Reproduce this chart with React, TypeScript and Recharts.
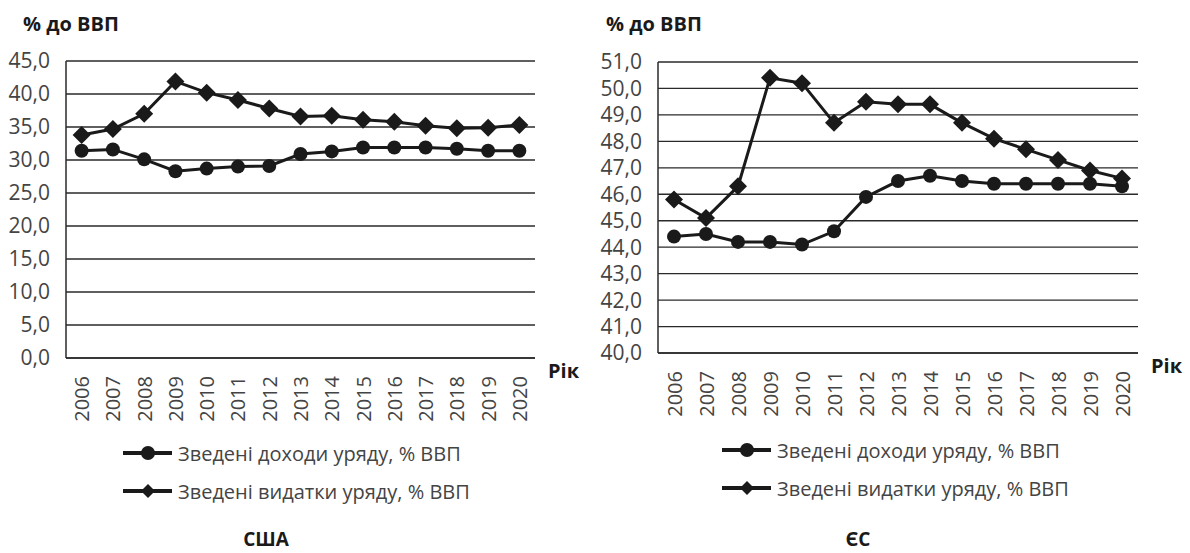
import React from 'react';
import {
    LineChart, Line, XAxis, YAxis, CartesianGrid,
} from 'recharts';

const years = ['2006', '2007', '2008', '2009', '2010', '2011', '2012', '2013', '2014', '2015', '2016', '2017', '2018', '2019', '2020'];

// США
const usRevenue = [31.4, 31.6, 30.1, 28.3, 28.7, 29.0, 29.1, 30.9, 31.3, 31.9, 31.9, 31.9, 31.7, 31.4, 31.4];
const usSpending = [33.8, 34.7, 37.0, 41.9, 40.2, 39.1, 37.8, 36.6, 36.7, 36.1, 35.8, 35.2, 34.8, 34.9, 35.3];
const usTicks = [0, 5, 10, 15, 20, 25, 30, 35, 40, 45];

// ЄС
const euRevenue = [44.4, 44.5, 44.2, 44.2, 44.1, 44.6, 45.9, 46.5, 46.7, 46.5, 46.4, 46.4, 46.4, 46.4, 46.3];
const euSpending = [45.8, 45.1, 46.3, 50.4, 50.2, 48.7, 49.5, 49.4, 49.4, 48.7, 48.1, 47.7, 47.3, 46.9, 46.6];
const euTicks = [40, 41, 42, 43, 44, 45, 46, 47, 48, 49, 50, 51];

const seriesNames = ['Зведені доходи уряду, % ВВП', 'Зведені видатки уряду, % ВВП'];

const INK = '#1a1a1a';
const TEXT = '#444';
const FONT = '"Open Sans", sans-serif';

const fmt = (v: number) => v.toFixed(1).replace('.', ',');

const Diamond = (props: any) => {
    const { cx, cy } = props;
    if (cx == null || cy == null) return null;
    const s = 9;
    return <polygon points={`${cx},${cy - s} ${cx + s},${cy} ${cx},${cy + s} ${cx - s},${cy}`} fill={INK} />;
};

const Circle = (props: any) => {
    const { cx, cy } = props;
    if (cx == null || cy == null) return null;
    return <circle cx={cx} cy={cy} r={7} fill={INK} />;
};

const YearTick = (props: any) => {
    const { x, y, payload } = props;
    const yy = y + 10;
    return (
        <text
            x={x}
            y={yy}
            transform={`rotate(-90, ${x}, ${yy})`}
            textAnchor="end"
            dominantBaseline="central"
            fontSize={20}
            fill={TEXT}
            fontFamily={FONT}
        >
            {payload.value}
        </text>
    );
};

const LegendBox = ({ left, top }: { left: number; top: number }) => (
    <svg width={400} height={80} style={{ position: 'absolute', left, top }}>
        <line x1={8} x2={57} y1={23} y2={23} stroke={INK} strokeWidth={4} />
        <circle cx={33} cy={23} r={7} fill={INK} />
        <text x={63} y={23} dominantBaseline="central" fontSize={20} fill={TEXT} fontFamily={FONT}>{seriesNames[0]}</text>
        <line x1={8} x2={57} y1={61} y2={61} stroke={INK} strokeWidth={4} />
        <polygon points="33,54 40,61 33,68 26,61" fill={INK} />
        <text x={63} y={61} dominantBaseline="central" fontSize={20} fill={TEXT} fontFamily={FONT}>{seriesNames[1]}</text>
    </svg>
);

interface PanelProps {
    left: number;
    revenue: number[];
    spending: number[];
    ticks: number[];
    yWidth: number;
    marginTop: number;
    marginRight: number;
    marginBottom: number;
    legendLeft: number;
    legendTop: number;
}

const Panel = (props: PanelProps) => {
    const {
        left, revenue, spending, ticks, yWidth, marginTop, marginRight, marginBottom, legendLeft, legendTop,
    } = props;
    const data = years.map((year, i) => ({ year, revenue: revenue[i], spending: spending[i] }));
    // points sit in the middle of each category band
    const halfBand = (600 - yWidth - marginRight) / years.length / 2;
    return (
        <div style={{ position: 'absolute', left, top: 0, width: 600, height: 553 }}>
            <LineChart
                width={600}
                height={553}
                data={data}
                margin={{ top: marginTop, right: marginRight, bottom: marginBottom, left: 0 }}
            >
                <CartesianGrid vertical={false} stroke="#2a2a2a" strokeWidth={1.3} />
                <XAxis
                    dataKey="year"
                    interval={0}
                    tickLine={false}
                    padding={{ left: halfBand, right: halfBand }}
                    axisLine={{ stroke: '#2a2a2a', strokeWidth: 1.5 }}
                    tick={<YearTick />}
                    height={60}
                    label={(p: any) => {
                        const vb = p.viewBox;
                        return (
                            <text
                                x={vb.x + vb.width + 13}
                                y={vb.y + 12}
                                dominantBaseline="central"
                                fontSize={20}
                                fontWeight="bold"
                                fill={INK}
                                fontFamily={FONT}
                            >
                                Рік
                            </text>
                        );
                    }}
                />
                <YAxis
                    type="number"
                    domain={[ticks[0], ticks[ticks.length - 1]]}
                    ticks={ticks}
                    interval={0}
                    width={yWidth}
                    tickLine={false}
                    tickMargin={10}
                    axisLine={{ stroke: '#2a2a2a', strokeWidth: 1.5 }}
                    tickFormatter={fmt}
                    tick={{ fontSize: 21, fill: TEXT, fontFamily: FONT }}
                />
                <Line
                    dataKey="revenue"
                    name={seriesNames[0]}
                    stroke={INK}
                    strokeWidth={3}
                    dot={<Circle />}
                    isAnimationActive={false}
                />
                <Line
                    dataKey="spending"
                    name={seriesNames[1]}
                    stroke={INK}
                    strokeWidth={3}
                    dot={<Diamond />}
                    isAnimationActive={false}
                />
            </LineChart>
            <LegendBox left={legendLeft} top={legendTop} />
        </div>
    );
};

const captionStyle: React.CSSProperties = {
    position: 'absolute',
    fontFamily: FONT,
    fontWeight: 'bold',
    color: INK,
    whiteSpace: 'nowrap',
};

export default function App() {
    return (
        <div style={{ position: 'fixed', left: 0, top: 0, width: 1190, height: 553, background: '#fff', overflow: 'hidden' }}>
            <div style={{ ...captionStyle, left: 23, top: 10, fontSize: 20 }}>% до ВВП</div>
            <div style={{ ...captionStyle, left: 606, top: 10, fontSize: 20 }}>% до ВВП</div>
            <Panel
                left={0}
                revenue={usRevenue}
                spending={usSpending}
                ticks={usTicks}
                yWidth={66}
                marginTop={61}
                marginRight={65}
                marginBottom={135}
                legendLeft={115}
                legendTop={430}
            />
            <Panel
                left={590}
                revenue={euRevenue}
                spending={euSpending}
                ticks={euTicks}
                yWidth={68}
                marginTop={62}
                marginRight={52}
                marginBottom={140}
                legendLeft={124}
                legendTop={427}
            />
            <div style={{ ...captionStyle, left: 216, width: 100, textAlign: 'center', top: 526, fontSize: 19 }}>США</div>
            <div style={{ ...captionStyle, left: 808, width: 100, textAlign: 'center', top: 526, fontSize: 19 }}>ЄС</div>
        </div>
    );
}
